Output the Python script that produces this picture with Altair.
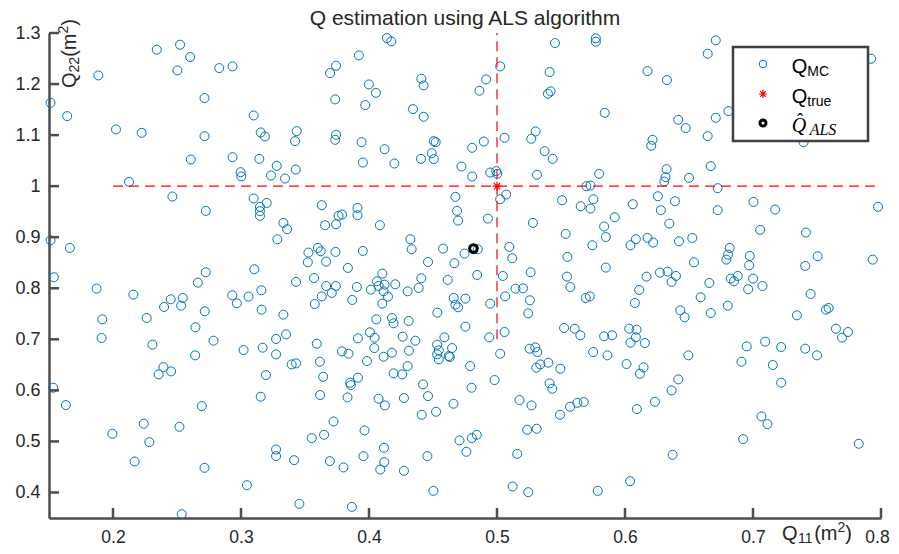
import altair as alt
import pandas as pd

# Monte-Carlo estimates Q11 / Q22
q11 = [
    0.2342, 0.2524, 0.2603, 0.2503, 0.2830, 0.2934, 0.1885, 0.1512, 0.1642, 0.2715, 0.3099, 0.2023, 0.2224, 0.2715, 0.2608, 0.2934, 0.2997, 0.3002, 0.2125,
    0.4140, 0.4174, 0.3921, 0.3743, 0.3696, 0.4409, 0.4427, 0.3999, 0.4054, 0.3736, 0.3971, 0.4344, 0.4427, 0.3154, 0.3187, 0.3435, 0.3422, 0.3743, 0.3736, 0.3942, 0.4506, 0.4521, 0.4122, 0.4490, 0.4506, 0.4406, 0.3952, 0.4198, 0.3143, 0.3279, 0.3234, 0.3344, 0.3428, 0.4722,
    0.5453, 0.5772, 0.5772, 0.5025, 0.4915, 0.4863, 0.5411, 0.5419, 0.5398, 0.6176, 0.6327, 0.5842, 0.5302, 0.5268, 0.5059, 0.4897, 0.4806, 0.5372, 0.5435, 0.6215, 0.6205, 0.6325, 0.6317, 0.6307, 0.5798, 0.5312, 0.4994, 0.5002, 0.4947, 0.4806, 0.5698, 0.5730,
    0.6709, 0.6646, 0.7922, 0.6416, 0.6474, 0.6709, 0.6808, 0.6646, 0.7395, 0.6670, 0.6500, 0.6724,
    0.2464, 0.2725, 0.3099, 0.1512, 0.1663, 0.1538, 0.2725, 0.2663, 0.3104, 0.1872, 0.2159, 0.2451, 0.2545, 0.2532, 0.2399, 0.2932, 0.2968, 0.3059, 0.2717, 0.1916, 0.2263, 0.2644, 0.1911, 0.2785, 0.2308, 0.3020, 0.2642,
    0.3201, 0.3148, 0.3148, 0.3148, 0.3631, 0.3762, 0.3790, 0.3910, 0.3910, 0.3657, 0.3743, 0.4085, 0.4675, 0.4688, 0.4696, 0.3331, 0.3360, 0.3284, 0.4323, 0.4333, 0.4579, 0.3527, 0.3600, 0.3623, 0.3738, 0.3952,
    0.3522, 0.3665, 0.4461, 0.4667, 0.4746, 0.3835, 0.4104, 0.3430, 0.3571, 0.4062, 0.3665, 0.3741, 0.3905, 0.4015, 0.4075, 0.4122, 0.4205, 0.4114, 0.4148, 0.4409, 0.4615, 0.4388, 0.4302, 0.3159, 0.3631, 0.3709,
    0.3576, 0.3869, 0.4104, 0.4662, 0.4675, 0.4696, 0.4753, 0.3161, 0.3331, 0.4057, 0.4179, 0.4192, 0.4310, 0.4534, 0.4753, 0.3352, 0.3274, 0.4007, 0.4044, 0.3913, 0.4263, 0.4362, 0.4589, 0.3592, 0.3169, 0.3274,
    0.3788, 0.3840, 0.4041, 0.4179, 0.4114, 0.4312, 0.4532, 0.4545, 0.4532, 0.4649, 0.4623,
    0.5072, 0.5025, 0.4929, 0.5281, 0.5508, 0.5654, 0.5730, 0.5753, 0.6061, 0.6257, 0.6280, 0.6390, 0.5920, 0.5837, 0.5850, 0.5745, 0.5537, 0.6043, 0.6085, 0.6176, 0.6220, 0.6346,
    0.4850, 0.5096, 0.5119, 0.5550, 0.5850, 0.4845, 0.5046, 0.5263, 0.5547, 0.5573, 0.6168, 0.6273, 0.6333, 0.6364, 0.6398, 0.6111, 0.5145, 0.5203, 0.5064, 0.5257, 0.5693, 0.5725,
    0.6077, 0.4947, 0.5244, 0.5524, 0.5607, 0.5651, 0.5837, 0.5899, 0.6033, 0.6090, 0.6085, 0.6043, 0.6155, 0.5059, 0.4939, 0.5255, 0.5299, 0.5315, 0.5025, 0.5751, 0.5863,
    0.7004, 0.6724, 0.7173, 0.7977, 0.7056, 0.7413, 0.6422, 0.6526, 0.6818, 0.6805, 0.6792, 0.6975, 0.6970, 0.6539, 0.7505, 0.7408, 0.7935, 0.6826, 0.6852, 0.6881, 0.7001,
    0.6962, 0.7074, 0.6659, 0.6591, 0.7450, 0.6432, 0.6466, 0.6670, 0.6803, 0.7343, 0.7570, 0.7591, 0.7648, 0.7695, 0.7742, 0.6951, 0.7095, 0.7220, 0.7408, 0.7500, 0.6495,
    0.2394, 0.2357, 0.2454, 0.1533, 0.1632, 0.2694, 0.2240, 0.2519, 0.1995, 0.2284, 0.2169, 0.2715, 0.3046, 0.2537,
    0.3396, 0.3430, 0.3616, 0.3984, 0.4545, 0.4631, 0.3195, 0.3642, 0.3913, 0.3853, 0.3858, 0.4192, 0.4260, 0.4302, 0.4422, 0.3154, 0.3618, 0.3832, 0.4075, 0.4124, 0.4273, 0.4461, 0.4660,
    0.4412, 0.4524, 0.3723, 0.3965, 0.3553, 0.3649, 0.4707, 0.4761, 0.3274, 0.3274, 0.3415, 0.3694, 0.3801, 0.3957, 0.4117, 0.4119, 0.4088, 0.4273, 0.4456, 0.4503, 0.3456, 0.3866,
    0.4790, 0.5307, 0.5338, 0.5401, 0.5495, 0.6012, 0.6145, 0.6116, 0.4981, 0.4801, 0.5411, 0.5432, 0.6416, 0.6364, 0.5176, 0.5270,
    0.5571, 0.5628, 0.5678, 0.5492, 0.6093, 0.6234, 0.5236, 0.5310, 0.4803, 0.4842, 0.5158, 0.6372, 0.5122, 0.5244, 0.5787, 0.6040,
    0.6910, 0.7155, 0.7220, 0.7066, 0.7113, 0.6923, 0.7826,
]
q22 = [
    1.2673, 1.2771, 1.2529, 1.2267, 1.2313, 1.2346, 1.2169, 1.1633, 1.1372, 1.1725, 1.1385, 1.1111, 1.1045, 1.0980, 1.0522, 1.0568, 1.0274, 1.0189, 1.0084,
    1.2901, 1.2836, 1.2561, 1.2359, 1.2215, 1.2104, 1.1973, 1.1993, 1.1829, 1.1699, 1.1588, 1.1509, 1.1359, 1.1052, 1.0973, 1.1078, 1.0882, 1.1006, 1.0908, 1.0862, 1.0882, 1.0862, 1.0725, 1.0646, 1.0529, 1.0535, 1.0463, 1.0444, 1.0535, 1.0398, 1.0209, 1.0150, 1.0326, 1.0385,
    1.2803, 1.2895, 1.2829, 1.2346, 1.2091, 1.1869, 1.2235, 1.1856, 1.1810, 1.2254, 1.2078, 1.1437, 1.1071, 1.0928, 1.0947, 1.0875, 1.0751, 1.0686, 1.0535, 1.0908, 1.0790, 1.0333, 1.0176, 1.0091, 1.0241, 1.0222, 1.0294, 1.0241, 1.0267, 1.0189, 0.9999, 1.0012,
    1.2856, 1.2594, 1.2496, 1.1300, 1.1137, 1.1339, 1.1470, 1.0980, 1.0862, 1.0392, 1.0163, 0.9960,
    0.9797, 0.9516, 0.9758, 0.8941, 0.8790, 0.8215, 0.8313, 0.8110, 0.8372, 0.7993, 0.7875, 0.7784, 0.7810, 0.7659, 0.7633, 0.7862, 0.7705, 0.7836, 0.7548, 0.7391, 0.7418, 0.7235, 0.7025, 0.6973, 0.6895, 0.6790, 0.6686,
    0.9672, 0.9594, 0.9509, 0.9418, 0.9627, 0.9418, 0.9444, 0.9574, 0.9431, 0.9235, 0.9254, 0.9235, 0.9790, 0.9516, 0.9326, 0.9280, 0.9156, 0.8960, 0.8960, 0.8764, 0.8777, 0.8699, 0.8790, 0.8725, 0.8712, 0.8731,
    0.8509, 0.8522, 0.8515, 0.8490, 0.8679, 0.8398, 0.8287, 0.8124, 0.8202, 0.8137, 0.8045, 0.8045, 0.8025, 0.7973, 0.8045, 0.8071, 0.8078, 0.7940, 0.7836, 0.8195, 0.8163, 0.8006, 0.7940, 0.7960, 0.7842, 0.7908,
    0.7692, 0.7771, 0.7699, 0.7810, 0.7679, 0.7627, 0.7797, 0.7581, 0.7483, 0.7391, 0.7418, 0.7313, 0.7359, 0.7522, 0.7248, 0.7097, 0.7006, 0.7137, 0.7032, 0.7019, 0.7052, 0.6973, 0.7039, 0.6914, 0.6836, 0.6705,
    0.6764, 0.6718, 0.6829, 0.6738, 0.6659, 0.6777, 0.6895, 0.6784, 0.6705, 0.6829, 0.6672,
    0.9836, 0.9744, 0.9365, 0.9280, 0.9725, 0.9607, 0.9561, 0.9744, 0.9646, 0.9803, 0.9529, 0.9705, 0.9391, 0.9209, 0.9003, 0.8842, 0.9065, 0.8842, 0.8960, 0.8986, 0.8895, 0.9267,
    0.8764, 0.8810, 0.8588, 0.8614, 0.8405, 0.8261, 0.8241, 0.8313, 0.8228, 0.8025, 0.8228, 0.8307, 0.8326, 0.8124, 0.8241, 0.7967, 0.7993, 0.7999, 0.7842, 0.7764, 0.7810, 0.7842,
    0.7712, 0.7699, 0.7509, 0.7222, 0.7208, 0.7078, 0.7058, 0.7078, 0.7208, 0.7189, 0.7039, 0.6934, 0.6927, 0.7143, 0.7039, 0.6816, 0.6842, 0.6751, 0.6718, 0.6751, 0.6686,
    0.9692, 0.9529, 0.9542, 0.9594, 0.9143, 0.9091, 0.8921, 0.8986, 0.8790, 0.8659, 0.8561, 0.8633, 0.8450, 0.8509, 0.8627, 0.8437, 0.8561, 0.8189, 0.8137, 0.8241, 0.8189,
    0.7980, 0.8045, 0.8104, 0.7823, 0.7888, 0.7568, 0.7431, 0.7516, 0.7659, 0.7470, 0.7581, 0.7614, 0.7208, 0.7032, 0.7143, 0.6862, 0.6954, 0.6849, 0.6816, 0.6686, 0.6686,
    0.6457, 0.6313, 0.6372, 0.6052, 0.5712, 0.5692, 0.5346, 0.5287, 0.5150, 0.4986, 0.4607, 0.4483, 0.4143, 0.3574,
    0.6509, 0.6529, 0.6561, 0.6574, 0.6607, 0.6653, 0.6300, 0.6267, 0.6248, 0.6150, 0.6104, 0.6333, 0.6313, 0.6476, 0.6117, 0.5875, 0.5908, 0.5862, 0.5836, 0.5705, 0.5849, 0.5888, 0.5738,
    0.5522, 0.5581, 0.5391, 0.5215, 0.5065, 0.5130, 0.5019, 0.4797, 0.4842, 0.4712, 0.4633, 0.4614, 0.4490, 0.4712, 0.4875, 0.4594, 0.4450, 0.4424, 0.4712, 0.4032, 0.3777, 0.3718,
    0.6476, 0.6444, 0.6509, 0.6542, 0.6424, 0.6516, 0.6450, 0.6326, 0.6202, 0.6052, 0.6137, 0.6032, 0.6215, 0.5999, 0.5810, 0.5705,
    0.5679, 0.5757, 0.5771, 0.5522, 0.5633, 0.5777, 0.5228, 0.5248, 0.5065, 0.5130, 0.4757, 0.4738, 0.4117, 0.4006, 0.4032, 0.4222,
    0.6561, 0.6496, 0.6150, 0.5490, 0.5339, 0.5045, 0.4954,
]
n = min(len(q11), len(q22))
q11, q22 = q11[:n], q22[:n]

true_q11 = [0.5]
true_q22 = [1.0]
als_q11 = [0.4816]
als_q22 = [0.8777]
hline_x = [0.2]
hline_x2 = [0.8]
hline_y = [1.0]
vline_x = [0.5]
vline_y = [0.7]
vline_y2 = [1.3]
x_ticks = [0.2, 0.3, 0.4, 0.5, 0.6, 0.7, 0.8]
y_ticks = [0.4, 0.5, 0.6, 0.7, 0.8, 0.9, 1.0, 1.1, 1.2, 1.3]

W, H = 832, 485
SANS = "Liberation Sans, Arial, Helvetica, sans-serif"
SERIF = "Liberation Serif, Times New Roman, serif"
BLUE = "#0072BD"
RED = "#FF0000"
AX = "#4d4d4d"
TXT = "#262626"

xs = alt.Scale(domain=[0.15, 0.8], nice=False, zero=False)
ys = alt.Scale(domain=[0.35, 1.3], nice=False, zero=False)
AXX = alt.Axis(values=x_ticks, format=".1~f", labelPadding=10, title=None, labelAlign="center",
               labelFontSize=17.5,
               labelOffset={"condition": {"test": "datum.value >= 0.79", "value": -4}, "value": 0})
AXY = alt.Axis(values=y_ticks, format=".1~f", labelPadding=9, title=None)


def X(f):
    return alt.X(f, scale=xs, axis=AXX)


def Y(f):
    return alt.Y(f, scale=ys, axis=AXY)


one = pd.DataFrame({"k": [0]})

ARIAL = {"Q": 778, "1": 556, "2": 556, "(": 333, ")": 333, "m": 833,
         "M": 833, "C": 722, "t": 278, "r": 333, "u": 556, "e": 556}


def tw(s, size):
    return sum(ARIAL.get(c, 556) for c in s) * size / 1000.0


def txt(s, x, y, size, angle=0, font=SANS, style="normal", align="left", color=TXT):
    return alt.Chart(one).mark_text(
        text=s, align=align, baseline="alphabetic", fontSize=size, font=font,
        fontStyle=style, angle=angle, color=color
    ).encode(x=alt.value(x), y=alt.value(y))


mc = pd.DataFrame({"q11": q11, "q22": q22})

points = alt.Chart(mc).mark_point(
    shape="circle", filled=False, size=81, strokeWidth=1, color=BLUE, opacity=1
).encode(x=X("q11:Q"), y=Y("q22:Q"))

hl = alt.Chart(pd.DataFrame({"q11": hline_x, "x2": hline_x2, "q22": hline_y})).mark_rule(
    color=RED, strokeDash=[10, 6], strokeWidth=1.2
).encode(x=X("q11:Q"), x2="x2:Q", y=Y("q22:Q"))

vl = alt.Chart(pd.DataFrame({"q11": vline_x, "q22": vline_y, "y2": vline_y2})).mark_rule(
    color=RED, strokeDash=[10, 6], strokeWidth=1.2
).encode(x=X("q11:Q"), y=Y("q22:Q"), y2="y2:Q")

STAR = "M0,-1L0,1M-1,0L1,0M-0.7,-0.7L0.7,0.7M-0.7,0.7L0.7,-0.7"
star = alt.Chart(pd.DataFrame({"q11": true_q11, "q22": true_q22})).mark_point(
    shape=STAR, filled=False, size=81, strokeWidth=1.2, color=RED, opacity=1
).encode(x=X("q11:Q"), y=Y("q22:Q"))

als = alt.Chart(pd.DataFrame({"q11": als_q11, "q22": als_q22})).mark_point(
    shape="circle", filled=False, size=60, strokeWidth=3, color="black", opacity=1
).encode(x=X("q11:Q"), y=Y("q22:Q"))

xt = alt.Chart(pd.DataFrame({"q11": x_ticks})).mark_rule(color=AX, strokeWidth=2.5).encode(
    x=X("q11:Q"), y=alt.value(H), y2=alt.value(H - 10))
yt = alt.Chart(pd.DataFrame({"q22": y_ticks})).mark_rule(color=AX, strokeWidth=2.5).encode(
    y=Y("q22:Q"), x=alt.value(0), x2=alt.value(10))

layers = [points, hl, vl, star, als, xt, yt]

# title
layers.append(txt("Q estimation using ALS algorithm", W / 2, -8, 21, align="center"))

# x axis title  Q11(m2)
bx, by = 733, 507
x0 = bx
layers.append(txt("Q", x0, by, 20)); x0 += tw("Q", 20) + 0.5
layers.append(txt("11", x0, by + 3, 14)); x0 += tw("11", 14) + 0.5
layers.append(txt("(m", x0, by, 20)); x0 += tw("(m", 20)
layers.append(txt("2", x0, by - 8, 14)); x0 += tw("2", 14)
layers.append(txt(")", x0, by, 20))

# y axis title  Q22(m2), rotated
yx, yy = 27, 55
y0 = yy
layers.append(txt("Q", yx, y0, 20, angle=270)); y0 -= tw("Q", 20)
layers.append(txt("22", yx + 3, y0, 14, angle=270)); y0 -= tw("22", 14)
layers.append(txt("(m", yx, y0, 20, angle=270)); y0 -= tw("(m", 20)
layers.append(txt("2", yx - 8, y0, 14, angle=270)); y0 -= tw("2", 14)
layers.append(txt(")", yx, y0, 20, angle=270))

# legend
layers.append(alt.Chart(one).mark_rect(fill="white", stroke="#404040", strokeWidth=2.5).encode(
    x=alt.value(684), x2=alt.value(819), y=alt.value(14), y2=alt.value(108)))
layers.append(alt.Chart(one).mark_point(shape="circle", filled=False, size=56, strokeWidth=1,
                                        color=BLUE, opacity=1).encode(x=alt.value(714), y=alt.value(31)))
layers.append(alt.Chart(one).mark_point(shape=STAR, filled=False, size=64, strokeWidth=1.2,
                                        color=RED, opacity=1).encode(x=alt.value(714), y=alt.value(61)))
layers.append(alt.Chart(one).mark_point(shape="circle", filled=False, size=36, strokeWidth=3,
                                        color="black", opacity=1).encode(x=alt.value(714), y=alt.value(90)))
lx = 742.7
layers.append(txt("Q", lx, 39.5, 20, color="black"))
layers.append(txt("MC", lx + tw("Q", 20), 42.5, 14, color="black"))
layers.append(txt("Q", lx, 69.5, 20, color="black"))
layers.append(txt("true", lx + tw("Q", 20), 72.5, 14, color="black"))
layers.append(txt("Q\u0302", lx, 98.5, 20, font=SERIF, style="italic", color="black"))
layers.append(txt("ALS", lx + 18, 101.5, 16, font=SERIF, style="italic", color="black"))

chart = alt.layer(*layers).properties(
    width=W, height=H,
    padding={"left": 41, "top": 25, "right": 10, "bottom": 27},
    autosize=alt.AutoSizeParams(type="none"),
).configure_view(stroke=None).configure_axis(
    grid=False, ticks=False, domainColor=AX, domainWidth=2.5,
    labelFont=SANS, labelFontSize=18, labelColor=TXT,
)

chart.save("out.html", embed_options={"renderer": "svg", "actions": False})
